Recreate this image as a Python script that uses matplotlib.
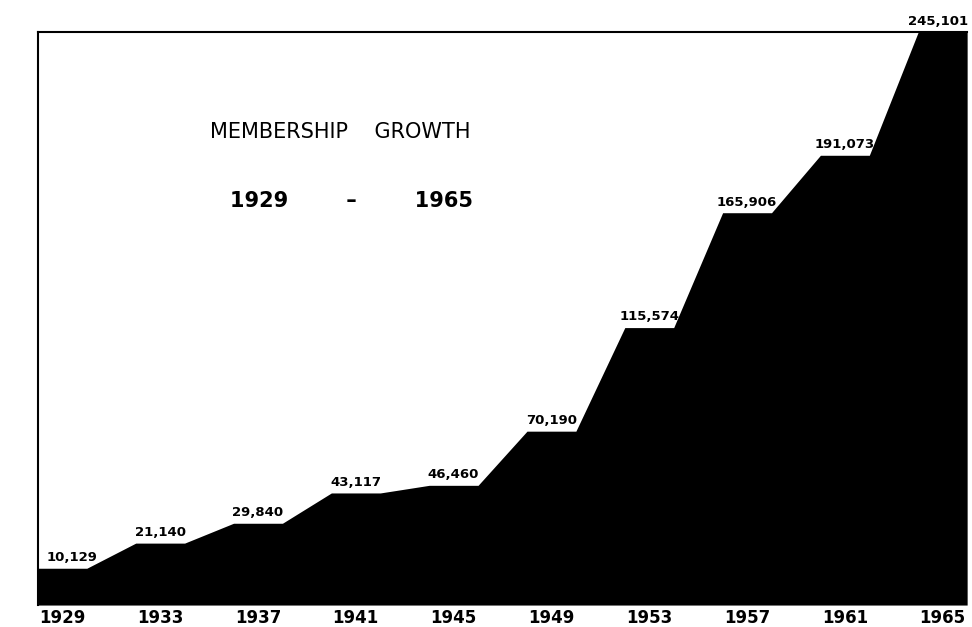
import numpy as np
import matplotlib
matplotlib.use('Agg')
import matplotlib.pyplot as plt

# data
years = [1929, 1933, 1937, 1941, 1945, 1949, 1953, 1957, 1961, 1965]
members = [10129, 21140, 29840, 43117, 46460, 70190, 115574, 165906, 191073, 245101]
labels = ['10,129', '21,140', '29,840', '43,117', '46,460',
          '70,190', '115,574', '165,906', '191,073', '245,101']

fig = plt.figure(figsize=(9.72, 6.27), dpi=100)
ax = fig.add_axes([0.039, 0.035, 0.956, 0.914])

# each year is drawn as a flat step, joined by sloped lines
half = 1.0
xs, ys = [], []
for yr, v in zip(years, members):
    xs += [yr - half, yr + half]
    ys += [v, v]
xs = np.array(xs)
ys = np.array(ys)

ybot = -6000
ax.fill_between(xs, ybot, ys, color='black', lw=0)
ax.set_xlim(xs[0], xs[-1])
ax.set_ylim(ybot, 245101)

for i, (yr, v, lab) in enumerate(zip(years, members, labels)):
    ha = 'center'
    dx = 0
    if i == 0:
        dx = 7
    if i == len(years) - 1:
        ha = 'right'
        dx = 18
    ax.annotate(lab, (yr, v), xytext=(dx, 3), textcoords='offset points',
                ha=ha, va='bottom', fontsize=9.5, fontweight='bold',
                annotation_clip=False)

ax.set_xticks(years)
ax.set_xticklabels([str(y) for y in years], fontsize=12, fontweight='bold')
ax.tick_params(axis='x', length=0, pad=3)
ax.set_yticks([])

for s in ['left', 'top']:
    ax.spines[s].set_linewidth(1.5)
ax.spines['right'].set_visible(False)
ax.spines['bottom'].set_visible(False)

ax.text(0.185, 0.825, 'MEMBERSHIP    GROWTH', transform=ax.transAxes,
        fontsize=15, ha='left', va='center')
ax.text(0.207, 0.705, '1929        –        1965', transform=ax.transAxes,
        fontsize=15, fontweight='bold', ha='left', va='center')

plt.savefig('out.png', dpi=100)
